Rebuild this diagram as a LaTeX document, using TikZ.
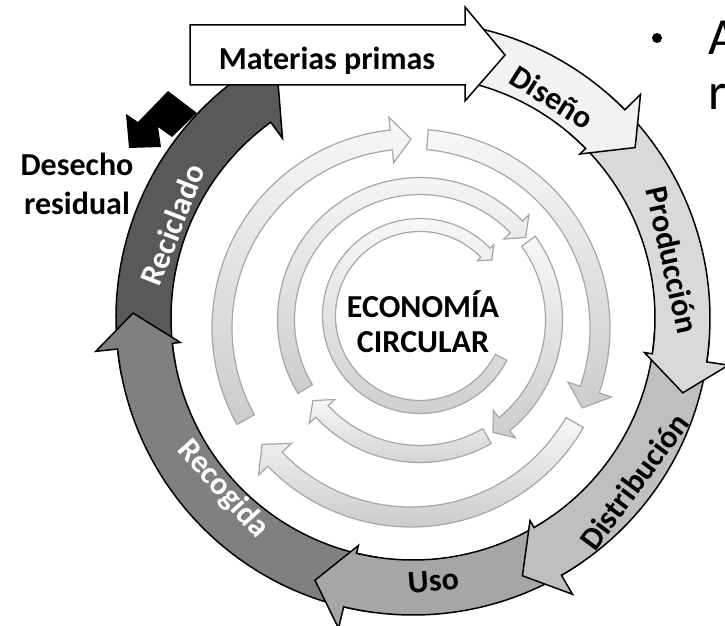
\documentclass[tikz,border=0pt]{standalone}
\usepackage{fontspec}
\setmainfont{Carlito}
\usetikzlibrary{positioning}
\tikzstyle{segline} = [draw=black, line width=1.5pt]
\tikzstyle{ringline} = [draw=black!35, line width=1.2pt, top color=black!3, bottom color=black!20]
\tikzstyle{lbl} = [font=\fontsize{32}{35}\selectfont\bfseries, inner sep=0pt]
\tikzstyle{slide} = [font=\fontsize{52}{60}\selectfont, inner sep=0pt, anchor=base west]

% outer ring piece: tail angle, head angle, fill, inner barb radius
\newcommand{\ringseg}[4]{%
  \draw[segline, fill=#3] (#1:297) arc[start angle=#1, end angle=#2, radius=297]
    -- (#2:319) -- (#2-7:280) -- (#2:#4) -- (#2:242)
    arc[start angle=#2, end angle=#1, radius=242] -- cycle;}
% inner ring arrow: mid radius, half width, head overhang, tail, head base, tip
\newcommand{\inarc}[6]{%
  \pgfmathsetmacro{\rOut}{#1+#2}\pgfmathsetmacro{\rIn}{#1-#2}%
  \pgfmathsetmacro{\bOut}{#1+#2+#3}\pgfmathsetmacro{\bIn}{#1-#2-#3}%
  \draw[ringline] (#4:\rOut) arc[start angle=#4, end angle=#5, radius=\rOut]
    -- (#5:\bOut) -- (#6:#1) -- (#5:\bIn) -- (#5:\rIn)
    arc[start angle=#5, end angle=#4, radius=\rIn] -- cycle;}

\begin{document}
\begin{tikzpicture}[x=1pt, y=1pt]
    \useasboundingbox (0,0) rectangle (725,625);

    % inner rings
    \begin{scope}[shift={(411,297)}]
        \inarc{189}{10}{13}{85}{-19}{-25}
        \inarc{189}{10}{13}{-30}{-136}{-142}
        \inarc{189}{10}{13}{-151}{-264}{-270}
    \end{scope}
    \begin{scope}[shift={(420,305)}]
        \inarc{134}{8.5}{9}{36}{-51}{-57}
        \inarc{134}{8.5}{9}{-60}{-137}{-143}
        \inarc{134}{8.5}{9}{-149}{-316}{-322}
    \end{scope}
    \begin{scope}[shift={(420,309)}]
        \inarc{91}{6.5}{5}{-27}{-316}{-322}
    \end{scope}
    \node[lbl, align=center] (eco) at (423,303) {ECONOMÍA\\CIRCULAR};

    % outer cycle
    \begin{scope}[shift={(413,307)}]
        \ringseg{191}{126}{black!65}{222}
        \ringseg{-98.5}{-174}{black!50}{234}
        \ringseg{-55}{-103.5}{black!35}{234}
        \ringseg{-3.5}{-60}{black!25}{234}
        \ringseg{49.5}{-8.5}{black!15}{234}
        \ringseg{78}{44.5}{black!5}{234}
        \node[lbl, rotate=-32.2] (diseno) at (57.8:261) {Diseño};
        \node[lbl, rotate=-77.4] (produccion) at (12.6:266) {Producción};
        \node[lbl, rotate=53.5] (distribucion) at (-36.5:275) {Distribución};
        \node[lbl, rotate=4.4] (uso) at (-85.6:264) {Uso};
        \node[lbl, rotate=-48, text=white] (recogida) at (-138:256) {Recogida};
        \node[lbl, rotate=68.8, text=white] (reciclado) at (158.8:258) {Reciclado};
    \end{scope}

    % raw material arrow
    \draw[segline, fill=white] (190,600) -- (465,600) -- (465,618) -- (505,570)
        -- (465,524) -- (465,540) -- (190,540) -- cycle;
    \node[lbl, anchor=base] (materias) at (327,555) {Materias primas};

    % waste
    \fill (168,534) -- (197,512) -- (172,488) -- (158,498) -- (161,478)
        -- (129,477) -- (126,511) -- (138,503) -- cycle;
    \node[lbl, align=center, font=\fontsize{32}{39}\selectfont\bfseries] (desecho) at (77,441) {Desecho\\residual};

    % slide text behind
    \node[circle, fill, inner sep=0pt, minimum size=10pt] (bullet) at (657,587) {};
    \node[slide] (lineA) at (708,570) {A};
    \node[slide] (lineR) at (708,515) {r};
\end{tikzpicture}
\end{document}
